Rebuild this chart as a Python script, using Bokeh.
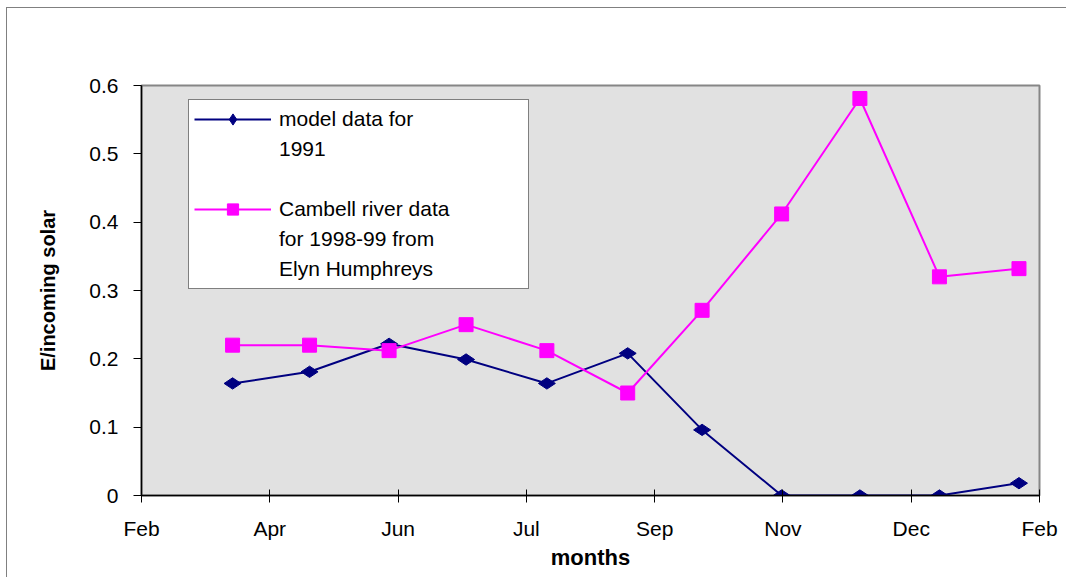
import numpy as np
from bokeh.plotting import figure
from bokeh.models import Range1d, FixedTicker, Legend, LegendItem
from bokeh.embed import file_html
from bokeh.resources import INLINE

# x positions in axis units (tick 0 = first "Feb", tick 7 = last "Feb")
x_pos = [0.71, 1.31, 1.93, 2.53, 3.16, 3.79, 4.37, 4.99, 5.60, 6.22, 6.84]
model_1991 = [0.164, 0.181, 0.222, 0.199, 0.164, 0.208, 0.096, 0.0, 0.0, 0.0, 0.018]
cambell_1998_99 = [0.220, 0.220, 0.212, 0.250, 0.212, 0.150, 0.271, 0.412, 0.581, 0.320, 0.332]

x_ticks = [0, 1, 2, 3, 4, 5, 6, 7]
x_tick_labels = ["Feb", "Apr", "Jun", "Jul", "Sep", "Nov", "Dec", "Feb"]
y_ticks = [0, 0.1, 0.2, 0.3, 0.4, 0.5, 0.6]
y_tick_labels = ["0", "0.1", "0.2", "0.3", "0.4", "0.5", "0.6"]

model_label = ["model data for", "1991"]
cambell_label = ["Cambell river data", "for 1998-99 from", "Elyn Humphreys"]

FONT = "Liberation Sans"

p = figure(width=1060, height=570, output_backend="svg", toolbar_location=None,
           x_range=Range1d(0, 7), y_range=Range1d(0, 0.6),
           min_border_left=134, min_border_top=77, min_border_right=28, min_border_bottom=83)
p.styles = {"margin-left": "6px", "margin-top": "7px",
            "border-left": "1px solid #808080", "border-top": "1px solid #808080"}

p.background_fill_color = "#e1e1e1"
p.border_fill_color = "white"
p.outline_line_color = "#868686"
p.outline_line_width = 2
p.xgrid.visible = False
p.ygrid.visible = False

# axes
p.xaxis.ticker = FixedTicker(ticks=x_ticks)
p.xaxis.major_label_overrides = {t: l for t, l in zip(x_ticks, x_tick_labels)}
p.yaxis.ticker = FixedTicker(ticks=y_ticks)
p.yaxis.major_label_overrides = {t: l for t, l in zip(y_ticks, y_tick_labels)}
p.xaxis.minor_tick_line_color = None
p.yaxis.minor_tick_line_color = None
for ax in (p.xaxis, p.yaxis):
    ax.axis_line_color = "black"
    ax.axis_line_width = 1.5
    ax.major_tick_line_color = "black"
    ax.major_tick_line_width = 1
    ax.major_label_text_font = FONT
    ax.major_label_text_font_size = "21px"
    ax.major_label_text_color = "black"
    ax.axis_label_text_font = FONT
    ax.axis_label_text_font_style = "bold"
    ax.axis_label_text_color = "black"
p.xaxis.major_tick_in = 6
p.xaxis.major_tick_out = 7
p.yaxis.major_tick_in = 0
p.yaxis.major_tick_out = 8
p.xaxis.major_label_standoff = 14
p.yaxis.major_label_standoff = 15
p.xaxis.axis_label = "months"
p.yaxis.axis_label = "E/incoming solar"
p.xaxis.axis_label_text_font_size = "22px"
p.yaxis.axis_label_text_font_size = "20px"
p.xaxis.axis_label_standoff = 2
p.yaxis.axis_label_standoff = 27

# series
l1 = p.line(x_pos, model_1991, line_color="#000080", line_width=2)
s1 = p.scatter(x_pos, model_1991, marker="diamond", angle=np.pi / 2, size=17,
               fill_color="#000080", line_color="#000080")
l2 = p.line(x_pos, cambell_1998_99, line_color="#ff00ff", line_width=2)
s2 = p.scatter(x_pos, cambell_1998_99, marker="square", size=14,
               fill_color="#ff00ff", line_color="#ff00ff")
# invisible placeholder used for continuation lines of the legend labels
blank = p.line([], [], line_alpha=0)

legend = Legend(items=[
    LegendItem(label=model_label[0], renderers=[l1, s1]),
    LegendItem(label=model_label[1], renderers=[blank]),
    LegendItem(label=" ", renderers=[blank]),
    LegendItem(label=cambell_label[0], renderers=[l2, s2]),
    LegendItem(label=cambell_label[1], renderers=[blank]),
    LegendItem(label=cambell_label[2], renderers=[blank]),
], location=(47, 206))
legend.label_text_font = FONT
legend.label_text_font_size = "21px"
legend.label_text_color = "black"
legend.glyph_width = 77
legend.glyph_height = 28
legend.label_height = 28
legend.label_width = 244
legend.label_standoff = 8
legend.spacing = 2
legend.padding = 5
legend.margin = 0
legend.border_line_color = "black"
legend.border_line_width = 1
legend.background_fill_color = "white"
legend.background_fill_alpha = 1
p.add_layout(legend, "center")

open("out.html", "w").write(file_html(p, INLINE))
